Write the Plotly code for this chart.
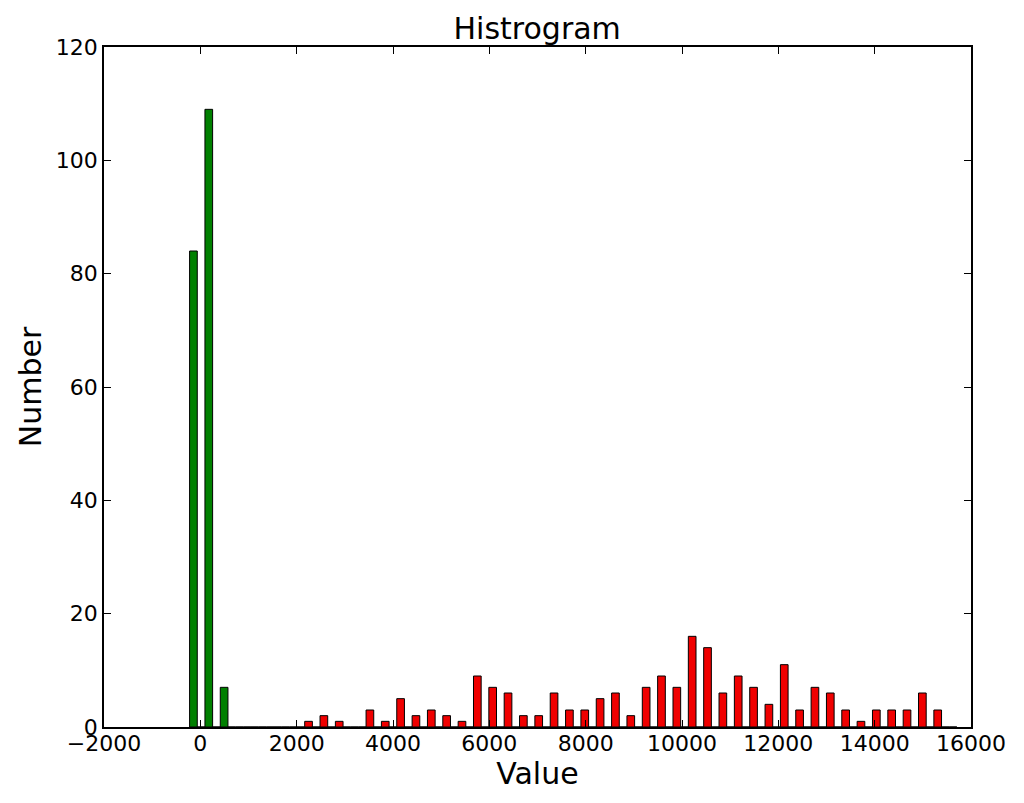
import numpy as np
import plotly.graph_objects as go

# histogram of two samples, 50 shared bins
bin_lo = -223.0
bin_hi = 15707.0
n_bins = 50

green_counts = [84, 109, 7] + [0] * 47
red_counts = [0, 0, 0, 0, 0, 0, 0,
              1, 2, 1, 0, 3, 1, 5, 2, 3, 2, 1, 9, 7, 6, 2, 2, 6, 3, 3, 5, 6, 2, 7, 9, 7,
              16, 14, 6, 9, 7, 4, 11, 3, 7, 6, 3, 1, 3, 3, 3, 6, 3, 0]

x_ticks = [-2000, 0, 2000, 4000, 6000, 8000, 10000, 12000, 14000, 16000]
x_labels = ["\u22122000", "0", "2000", "4000", "6000", "8000", "10000", "12000", "14000", "16000"]
y_ticks = [0, 20, 40, 60, 80, 100, 120]

edges = np.linspace(bin_lo, bin_hi, n_bins + 1)
bw = edges[1] - edges[0]
centers = (edges[:-1] + edges[1:]) / 2

fig = go.Figure()
fig.add_trace(go.Bar(x=centers, y=green_counts, width=bw / 2, offset=-bw / 2,
                     marker=dict(color="#008000", line=dict(color="black", width=1))))
fig.add_trace(go.Bar(x=centers, y=red_counts, width=bw / 2, offset=0,
                     marker=dict(color="#f00000", line=dict(color="black", width=1))))

font = "DejaVu Sans"
axis_common = dict(showline=True, linecolor="black", linewidth=1.5, mirror="ticks",
                   ticks="inside", ticklen=7, tickcolor="black", showgrid=False,
                   zeroline=False, automargin=False,
                   tickfont=dict(family=font, size=22, color="black"))

# page body has an 8px margin, so the figure is a bit smaller than the window
fig.update_layout(
    width=1008, height=787,
    margin=dict(l=96, r=45, t=39, b=68),
    paper_bgcolor="white", plot_bgcolor="white",
    showlegend=False, barmode="overlay",
    title=dict(text="Histrogram", x=0.525, xanchor="center", y=1 - 20 / 787, yanchor="middle",
               yref="container", font=dict(family=font, size=30, color="black")),
    xaxis=dict(range=[-2000, 16000], tickvals=x_ticks, ticktext=x_labels, ticklabelstandoff=-4,
               title=dict(text="Value", standoff=0, font=dict(family=font, size=30, color="black")),
               **axis_common),
    yaxis=dict(range=[0, 120], tickvals=y_ticks,
               title=dict(text="Number", standoff=5, font=dict(family=font, size=30, color="black")),
               **axis_common),
)

fig.write_html("out.html")
